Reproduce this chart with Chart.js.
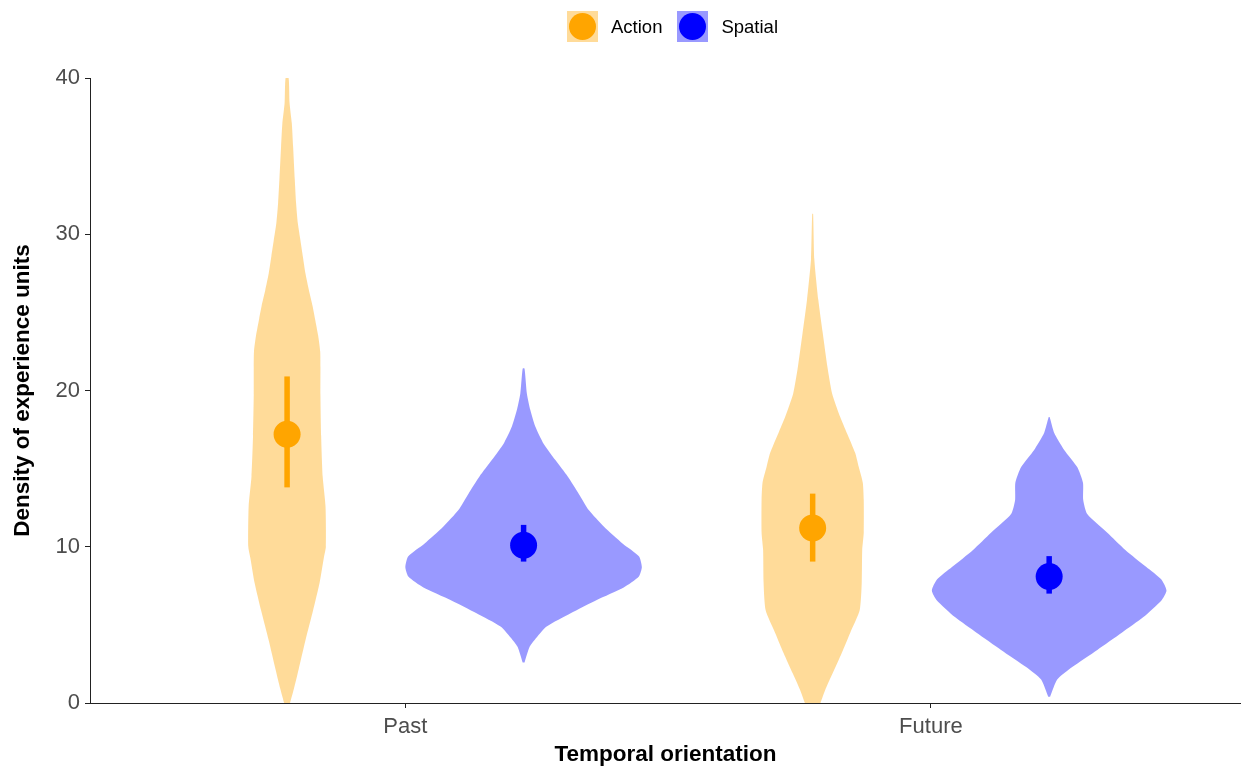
<!DOCTYPE html>
<html>
<head>
<meta charset="utf-8">
<title>Density of experience units by temporal orientation</title>
<script src="https://cdn.jsdelivr.net/npm/chart.js@4"></script>
<style>
  html, body { margin: 0; padding: 0; background: #ffffff; }
  #wrap { position: relative; width: 1241px; height: 768px; }
  #chart { position: absolute; left: 0; top: 0; }
  #legend {
    position: absolute; left: 567px; top: 11px;
    display: flex; align-items: center;
    font-family: "Liberation Sans", Arial, sans-serif; font-size: 18.5px; color: #000;
  }
  .key { position: relative; width: 31px; height: 31px; }
  .key span {
    position: absolute; left: 2px; top: 2px; width: 27px; height: 27px; border-radius: 50%;
  }
  .lab { margin-left: 13px; margin-right: 15px; line-height: 31px; }
</style>
</head>
<body>
<div id="wrap">
  <canvas id="chart" width="1241" height="768"></canvas>
  <div id="legend"></div>
</div>
<script>
// ---- data ----
const categories = ['Past', 'Future'];
const seriesNames = ['Action', 'Spatial'];
const yTicks = [0, 10, 20, 30, 40];

// group means with interval bounds, one value per category
const actionMean = [17.2, 11.2];
const actionLow = [13.8, 9.05];
const actionHigh = [20.9, 13.4];
const spatialMean = [10.1, 8.1];
const spatialLow = [9.05, 7.0];
const spatialHigh = [11.4, 9.4];

// violin profiles: response levels and relative density (1 = widest violin)
const pastActionY = [0, 0.9, 2.2, 4.0, 5.9, 7.7, 9.3, 10.0, 12.6, 14.5, 17.1, 19.7, 21.5, 22.5, 23.5, 24.6, 25.4, 26.4, 27.5, 28.6, 29.6, 30.7, 32.0, 33.5, 35.6, 37.1, 38.4, 40.0];
const pastActionD = [0.025, 0.057, 0.099, 0.155, 0.219, 0.275, 0.311, 0.328, 0.325, 0.301, 0.288, 0.282, 0.282, 0.280, 0.263, 0.236, 0.216, 0.185, 0.155, 0.133, 0.113, 0.091, 0.076, 0.065, 0.051, 0.040, 0.021, 0.013];

const pastSpatialY = [2.6, 3.6, 4.2, 4.9, 5.75, 6.6, 7.4, 8.1, 8.7, 9.4, 10.2, 11.3, 12.35, 13.4, 14.5, 15.55, 16.6, 17.7, 18.75, 19.8, 21.4];
const pastSpatialD = [0.008, 0.051, 0.110, 0.195, 0.398, 0.619, 0.847, 0.975, 1.0, 0.975, 0.839, 0.678, 0.551, 0.466, 0.373, 0.269, 0.169, 0.099, 0.057, 0.028, 0.008];

const futureActionY = [0, 0.83, 1.9, 3.2, 4.5, 5.95, 7.7, 9.8, 10.9, 13.0, 14.1, 15.1, 16.0, 17.3, 18.3, 19.8, 21.5, 23.7, 25.8, 28.4, 31.3];
const futureActionD = [0.066, 0.106, 0.169, 0.246, 0.318, 0.398, 0.415, 0.419, 0.432, 0.432, 0.424, 0.390, 0.360, 0.288, 0.233, 0.165, 0.125, 0.085, 0.048, 0.014, 0.004];

const futureSpatialY = [0.4, 1.5, 2.3, 3.4, 4.5, 5.5, 6.6, 7.2, 7.9, 8.7, 9.8, 10.9, 12.1, 13.0, 14.1, 15.1, 16.2, 17.3, 18.3];
const futureSpatialD = [0.008, 0.068, 0.195, 0.407, 0.614, 0.797, 0.953, 0.992, 0.949, 0.822, 0.644, 0.492, 0.322, 0.288, 0.286, 0.237, 0.127, 0.042, 0.004];

// ---- styling ----
const FONT = '"Liberation Sans", Arial, sans-serif';
const pointColors = ['#FFA500', '#0000FF'];
const violinColors = ['rgba(255,165,0,0.4)', 'rgba(0,0,255,0.4)'];
const DODGE = 0.225;          // half of the dodge width
const HALF_WIDTH = 0.225;     // half-width of the widest violin, in x units
const AXIS_COLOR = '#222222';

// ---- build datasets ----
const profiles = [
  [{ y: pastActionY, d: pastActionD }, { y: futureActionY, d: futureActionD }],
  [{ y: pastSpatialY, d: pastSpatialD }, { y: futureSpatialY, d: futureSpatialD }]
];
const means = [actionMean, spatialMean];
const lows = [actionLow, spatialLow];
const highs = [actionHigh, spatialHigh];
const datasets = [];

seriesNames.forEach((name, s) => {
  const offset = s === 0 ? -DODGE : DODGE;
  categories.forEach((cat, c) => {
    const cx = c + 1 + offset;
    const prof = profiles[s][c];
    const right = prof.y.map((yv, i) => ({ x: cx + prof.d[i] * HALF_WIDTH, y: yv }));
    const left = prof.y.map((yv, i) => ({ x: cx - prof.d[i] * HALF_WIDTH, y: yv })).reverse();
    datasets.push({
      label: name + ' ' + cat + ' violin',
      data: right.concat(left),
      fill: 'shape',
      backgroundColor: violinColors[s],
      borderColor: 'transparent',
      borderWidth: 0,
      pointRadius: 0,
      tension: 0.2,
      order: 3
    });
    datasets.push({
      label: name + ' ' + cat + ' interval',
      data: [{ x: cx, y: lows[s][c] }, { x: cx, y: highs[s][c] }],
      fill: false,
      borderColor: pointColors[s],
      borderWidth: 5.5,
      pointRadius: 0,
      order: 2
    });
  });
  datasets.push({
    label: name,
    data: categories.map((cat, c) => ({ x: c + 1 + offset, y: means[s][c] })),
    showLine: false,
    pointRadius: 13.5,
    pointBackgroundColor: pointColors[s],
    pointBorderWidth: 0,
    order: 1
  });
});

// ---- legend ----
const legendEl = document.getElementById('legend');
seriesNames.forEach((name, s) => {
  const key = document.createElement('div');
  key.className = 'key';
  key.style.background = violinColors[s];
  const dot = document.createElement('span');
  dot.style.background = pointColors[s];
  key.appendChild(dot);
  const lab = document.createElement('div');
  lab.className = 'lab';
  lab.textContent = name;
  legendEl.appendChild(key);
  legendEl.appendChild(lab);
});

// ---- chart ----
new Chart(document.getElementById('chart'), {
  type: 'line',
  data: { datasets },
  options: {
    responsive: false,
    animation: false,
    layout: { autoPadding: false, padding: { top: 78, right: 0, bottom: 0, left: 0 } },
    plugins: { legend: { display: false }, tooltip: { enabled: false } },
    scales: {
      x: {
        type: 'linear',
        min: 0.4,
        max: 2.59,
        afterBuildTicks: (scale) => { scale.ticks = categories.map((c, i) => ({ value: i + 1 })); },
        afterFit: (scale) => {
          scale.height = 65;
          scale.paddingLeft = 0;
          scale.paddingRight = 0;
        },
        ticks: {
          callback: (v) => categories[v - 1],
          font: { family: FONT, size: 22 },
          color: '#4d4d4d',
          padding: 6,
          autoSkip: false,
          maxRotation: 0
        },
        grid: { drawOnChartArea: false, drawTicks: true, tickLength: 5, color: AXIS_COLOR, lineWidth: 1 },
        border: { display: true, color: AXIS_COLOR, width: 1 },
        title: {
          display: true,
          text: 'Temporal orientation',
          font: { family: FONT, size: 22.5, weight: 'bold' },
          color: '#000',
          padding: { top: 0, bottom: 0 }
        }
      },
      y: {
        type: 'linear',
        min: 0,
        max: 40,
        afterBuildTicks: (scale) => { scale.ticks = yTicks.map((v) => ({ value: v })); },
        afterFit: (scale) => {
          scale.width = 90;
          scale.paddingTop = 0;
          scale.paddingBottom = 0;
        },
        ticks: {
          font: { family: FONT, size: 22 },
          color: '#4d4d4d',
          padding: 5
        },
        grid: { drawOnChartArea: false, drawTicks: true, tickLength: 5, color: AXIS_COLOR, lineWidth: 1 },
        border: { display: true, color: AXIS_COLOR, width: 1 },
        title: {
          display: true,
          text: 'Density of experience units',
          font: { family: FONT, size: 22.5, weight: 'bold' },
          color: '#000',
          padding: { top: 9.5, bottom: 0 }
        }
      }
    }
  }
});
</script>
</body>
</html>
